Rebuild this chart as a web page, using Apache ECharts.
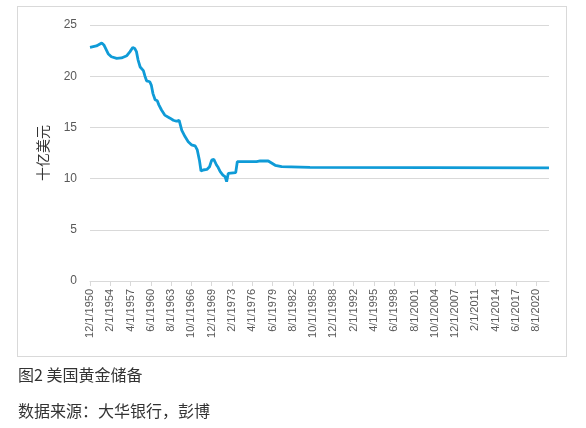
<!DOCTYPE html>
<html>
<head>
<meta charset="utf-8">
<script src="https://cdn.jsdelivr.net/npm/echarts@6/dist/echarts.min.js"></script>
<style>
  body { margin: 0; background: #fff; }
  #frame { position: absolute; left: 17px; top: 6px; width: 548px; height: 349px; border: 1px solid #d9d9d9; }
  #main { position: absolute; left: 0; top: 0; width: 586px; height: 428px; }
  .cap { position: absolute; left: 18px; font-family: "Noto Sans CJK SC", sans-serif; font-size: 16px; color: #333; white-space: nowrap; }
</style>
</head>
<body>
<div id="frame"></div>
<div id="main"></div>
<div class="cap" style="top:362px">图2 美国黄金储备</div>
<div class="cap" style="top:398px">数据来源：大华银行，彭博</div>
<script>
window.onload = function(){

// month range of the x axis (m/1/yyyy)
var firstMonth = [1950, 12];
var lastMonth = [2022, 8];

// key points (date, billions USD)
var keyDates = ['12/1/1950','12/1/1951','10/1/1952','2/1/1953','10/1/1953','4/1/1954','2/1/1955','11/1/1955',
  '9/1/1956','3/1/1957','8/1/1957','12/1/1957','3/1/1958','6/1/1958','10/1/1958','4/1/1959','7/1/1959',
  '10/1/1959','4/1/1960','7/1/1960','10/1/1960','2/1/1961','6/1/1961','9/1/1961','2/1/1962','8/1/1962',
  '6/1/1963','12/1/1963','6/1/1964','11/1/1964','4/1/1965','10/1/1965','4/1/1966','10/1/1966','5/1/1967',
  '9/1/1967','1/1/1968','4/1/1968','8/1/1968','3/1/1969','8/1/1969','12/1/1969','4/1/1970','9/1/1970',
  '12/1/1970','4/1/1971','9/1/1971','1/1/1972','4/1/1972','7/1/1972','9/1/1973','12/1/1973','12/1/1976',
  '7/1/1977','10/1/1978','11/1/1979','11/1/1980','4/1/1985','8/1/2022'];
var keyValues = [22.82,22.95,23.25,23.05,22.2,21.9,21.75,21.78,
  22.0,22.4,22.8,22.7,22.4,21.6,20.9,20.55,20.0,
  19.55,19.46,19.1,18.3,17.7,17.6,17.2,16.7,16.2,
  15.9,15.7,15.6,15.7,14.7,14.1,13.6,13.3,13.2,
  12.8,11.8,10.74,10.84,10.9,11.16,11.8,11.88,11.33,
  11.1,10.68,10.35,10.2,9.7,10.5,10.58,11.65,11.65,
  11.72,11.72,11.3,11.16,11.1,11.04];

var yTicks = [0, 5, 10, 15, 20, 25];

var months = [];
var y = firstMonth[0], m = firstMonth[1];
while (y < lastMonth[0] || (y == lastMonth[0] && m <= lastMonth[1])) {
    months.push(m + '/1/' + y);
    m++;
    if (m > 12) { m = 1; y++; }
}

var lineData = months.map(function(){ return null; });
for (var i = 0; i < keyDates.length; i++) {
    lineData[months.indexOf(keyDates[i])] = keyValues[i];
}

var chart = echarts.init(document.getElementById('main'));
var option = {
    animation: false,
    grid: { left: 90, right: 37, top: 25, bottom: 147 },
    xAxis: {
        type: 'category',
        data: months,
        boundaryGap: false,
        axisLine: { lineStyle: { color: '#d9d9d9' } },
        axisTick: { interval: 37, length: 5, lineStyle: { color: '#d9d9d9' } },
        axisLabel: {
            interval: 37,
            rotate: 90,
            margin: 8,
            color: '#595959',
            fontSize: 11,
            fontFamily: 'Liberation Sans'
        }
    },
    yAxis: {
        type: 'value',
        min: yTicks[0],
        max: yTicks[yTicks.length - 1],
        interval: 5,
        name: '十亿美元',
        nameLocation: 'middle',
        nameGap: 40,
        nameTextStyle: { color: '#333', fontSize: 14, fontFamily: 'Noto Sans CJK SC' },
        axisLine: { show: false },
        axisTick: { show: false },
        splitLine: { lineStyle: { color: '#d9d9d9' } },
        axisLabel: { color: '#595959', fontSize: 12, margin: 13, fontFamily: 'Liberation Sans' }
    },
    series: [{
        type: 'line',
        data: lineData,
        connectNulls: true,
        showSymbol: false,
        symbol: 'none',
        lineStyle: { color: '#0f9bd7', width: 2.8 }
    }]
};
chart.setOption(option);

}
</script>
</body>
</html>
